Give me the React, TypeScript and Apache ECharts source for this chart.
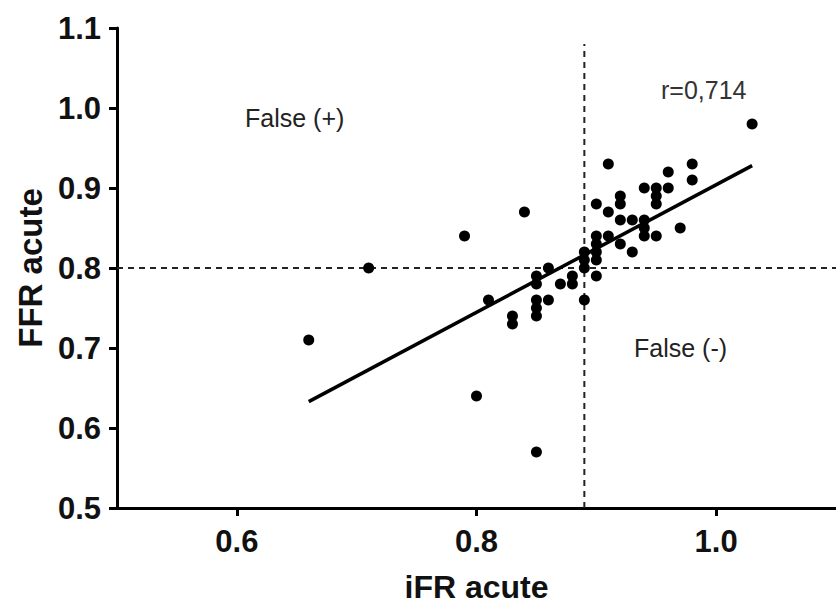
import React, { useEffect, useRef } from "react";
import * as echarts from "echarts";

// iFR acute (x) and FFR acute (y) for each patient
const ifrValues = [
  0.66, 0.71, 0.79, 0.80, 0.81, 0.83, 0.83, 0.84,
  0.85, 0.85, 0.85, 0.85, 0.85, 0.85,
  0.86, 0.86, 0.87, 0.88, 0.88,
  0.89, 0.89, 0.89, 0.89,
  0.90, 0.90, 0.90, 0.90, 0.90, 0.90,
  0.91, 0.91, 0.91,
  0.92, 0.92, 0.92, 0.92,
  0.93, 0.93,
  0.94, 0.94, 0.94, 0.94,
  0.95, 0.95, 0.95, 0.95,
  0.96, 0.96,
  0.97,
  0.98, 0.98,
  1.03,
];
const ffrValues = [
  0.71, 0.80, 0.84, 0.64, 0.76, 0.74, 0.73, 0.87,
  0.79, 0.78, 0.76, 0.75, 0.74, 0.57,
  0.80, 0.76, 0.78, 0.79, 0.78,
  0.82, 0.81, 0.80, 0.76,
  0.88, 0.84, 0.83, 0.82, 0.81, 0.79,
  0.93, 0.87, 0.84,
  0.89, 0.88, 0.86, 0.83,
  0.86, 0.82,
  0.90, 0.86, 0.85, 0.84,
  0.90, 0.89, 0.88, 0.84,
  0.92, 0.90,
  0.85,
  0.93, 0.91,
  0.98,
];

// regression line end points
const fitIfr = [0.66, 1.03];
const fitFfr = [0.633, 0.928];

// cut-off values
const ifrCutoff = 0.89;
const ffrCutoff = 0.8;
const verticalCutoffTop = 1.08;

const xTicks = [0.6, 0.8, 1.0];
const yTicks = [0.5, 0.6, 0.7, 0.8, 0.9, 1.0, 1.1];
const xRange = [0.5, 1.1];
const yRange = [0.5, 1.1];

const correlationText = "r=0,714";
const falsePositiveText = "False (+)";
const falseNegativeText = "False (-)";
const xName = "iFR acute";
const yName = "FFR acute";

const FONT = "'Liberation Sans', Arial, Helvetica, sans-serif";

export default function App() {
  const ref = useRef<HTMLDivElement>(null);

  useEffect(() => {
    if (!ref.current) return;
    const chart = echarts.init(ref.current, null, { renderer: "svg" });

    const points = ifrValues.map((x, i) => [x, ffrValues[i]]);
    const fit = fitIfr.map((x, i) => [x, fitFfr[i]]);

    const axisCommon = {
      axisLine: { show: true, onZero: false, lineStyle: { color: "#000", width: 3 } },
      axisTick: { show: true, inside: false, length: 8, lineStyle: { color: "#000", width: 3 } },
      splitLine: { show: false },
      nameTextStyle: { fontFamily: FONT, fontWeight: "bold", fontSize: 33, color: "#111" },
    };

    chart.setOption({
      animation: false,
      backgroundColor: "#fff",
      grid: {
        left: 117,
        top: 28,
        right: 0,
        bottom: 97,
        containLabel: false,
        outerBoundsMode: "none",
      },
      xAxis: {
        type: "value",
        min: xRange[0],
        max: xRange[1],
        name: xName,
        nameLocation: "middle",
        nameGap: 62,
        ...axisCommon,
        nameTextStyle: { ...axisCommon.nameTextStyle, fontSize: 32, lineHeight: 34 },
        axisTick: { ...axisCommon.axisTick, customValues: xTicks },
        axisLabel: {
          customValues: xTicks,
          formatter: (v: number) => v.toFixed(1),
          margin: 18,
          fontFamily: FONT,
          fontWeight: "bold",
          fontSize: 31,
          color: "#111",
        },
      },
      yAxis: {
        type: "value",
        min: yRange[0],
        max: yRange[1],
        name: yName,
        nameLocation: "middle",
        nameGap: 69,
        ...axisCommon,
        axisTick: { ...axisCommon.axisTick, customValues: yTicks },
        axisLabel: {
          customValues: yTicks,
          formatter: (v: number) => v.toFixed(1),
          margin: 16,
          fontFamily: FONT,
          fontWeight: "bold",
          fontSize: 31,
          color: "#111",
        },
      },
      series: [
        {
          type: "line",
          data: [
            [ifrCutoff, yRange[0]],
            [ifrCutoff, verticalCutoffTop],
          ],
          symbol: "none",
          silent: true,
          lineStyle: { color: "#222", width: 2, type: [6, 5] },
          z: 1,
        },
        {
          type: "line",
          data: [
            [xRange[0], ffrCutoff],
            [xRange[1], ffrCutoff],
          ],
          symbol: "none",
          silent: true,
          lineStyle: { color: "#222", width: 2, type: [6, 5] },
          z: 1,
        },
        {
          type: "scatter",
          data: points,
          symbol: "circle",
          symbolSize: 11,
          itemStyle: { color: "#000", opacity: 1 },
          z: 3,
        },
        {
          type: "line",
          data: fit,
          symbol: "none",
          silent: true,
          lineStyle: { color: "#000", width: 3.5 },
          z: 4,
        },
      ],
      graphic: [
        {
          type: "text",
          left: 245,
          top: 105,
          style: { text: falsePositiveText, fontFamily: FONT, fontSize: 25, fill: "#222" },
        },
        {
          type: "text",
          left: 634,
          top: 335,
          style: { text: falseNegativeText, fontFamily: FONT, fontSize: 25, fill: "#222" },
        },
        {
          type: "text",
          left: 661,
          top: 77,
          style: { text: correlationText, fontFamily: FONT, fontSize: 25, fill: "#333" },
        },
      ],
    });

    return () => chart.dispose();
  }, []);

  return (
    <div
      ref={ref}
      style={{ position: "fixed", left: 0, top: 0, width: 836, height: 605, background: "#fff" }}
    />
  );
}
